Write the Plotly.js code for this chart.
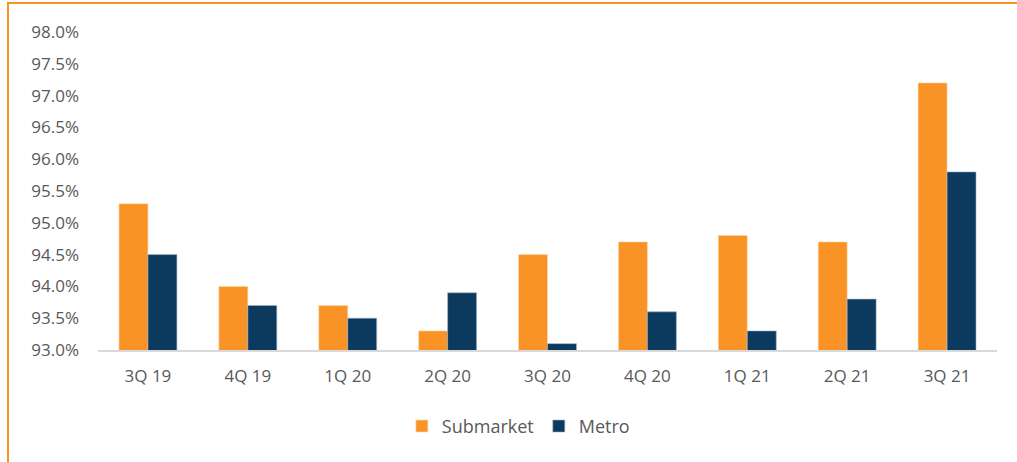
<!DOCTYPE html>
<html>
<head>
<meta charset="utf-8">
<script src="https://cdn.plot.ly/plotly-3.0.1.min.js"></script>
<style>
  html, body { margin: 0; padding: 0; background: #fff; }
  #wrap { position: relative; width: 1017px; height: 462px; }
  #chart { width: 1017px; height: 462px; }
  #frame { position: absolute; left: 7px; top: 2px; right: 0; bottom: 0;
           border-top: 2px solid #F7941D; border-left: 2px solid #F7941D;
           pointer-events: none; }
</style>
</head>
<body>
<div id="wrap">
  <div id="chart"></div>
  <div id="frame"></div>
</div>
<script>
const categories = ["3Q 19", "4Q 19", "1Q 20", "2Q 20", "3Q 20", "4Q 20", "1Q 21", "2Q 21", "3Q 21"];
const submarket = [0.953, 0.940, 0.937, 0.933, 0.945, 0.947, 0.948, 0.947, 0.972];
const metro = [0.945, 0.937, 0.935, 0.939, 0.931, 0.936, 0.933, 0.938, 0.958];
const yTicks = [0.93, 0.935, 0.94, 0.945, 0.95, 0.955, 0.96, 0.965, 0.97, 0.975, 0.98];

const fontFam = "'Open Sans', 'Noto Sans', sans-serif";
const traces = [
  { type: "bar", name: "Submarket", x: categories, y: submarket,
    marker: { color: "#FA9326", line: { color: "#FCD9B0", width: 0.6 } }, base: 0 },
  { type: "bar", name: "Metro", x: categories, y: metro,
    marker: { color: "#0C3A5F", line: { color: "#9FB3C6", width: 0.6 } }, base: 0 }
];
const layout = {
  width: 1017, height: 462,
  margin: { l: 98, r: 20, t: 32, b: 112 },
  paper_bgcolor: "#fff", plot_bgcolor: "#fff",
  barmode: "group", bargap: 0.42, bargroupgap: 0,
  font: { family: fontFam, size: 17, color: "#595959" },
  showlegend: true,
  legend: { orientation: "h", x: 0.338, xanchor: "left", y: -0.24, yanchor: "middle",
            font: { family: fontFam, size: 18, color: "#595959" }, itemwidth: 30,
            traceorder: "normal" },
  xaxis: { type: "category", showgrid: false, zeroline: false, showline: true,
           linecolor: "#D9D9D9", linewidth: 1.5, ticks: "", ticklabelstandoff: 10,
           tickfont: { family: fontFam, size: 17, color: "#595959" } },
  yaxis: { range: [0.93, 0.98], tickvals: yTicks, tickformat: ".1%", showgrid: false,
           zeroline: false, showline: false, ticks: "", ticklabelstandoff: 18,
           tickfont: { family: fontFam, size: 17, color: "#595959" } }
};
Plotly.newPlot("chart", traces, layout, { displayModeBar: false, staticPlot: true });
</script>
</body>
</html>
